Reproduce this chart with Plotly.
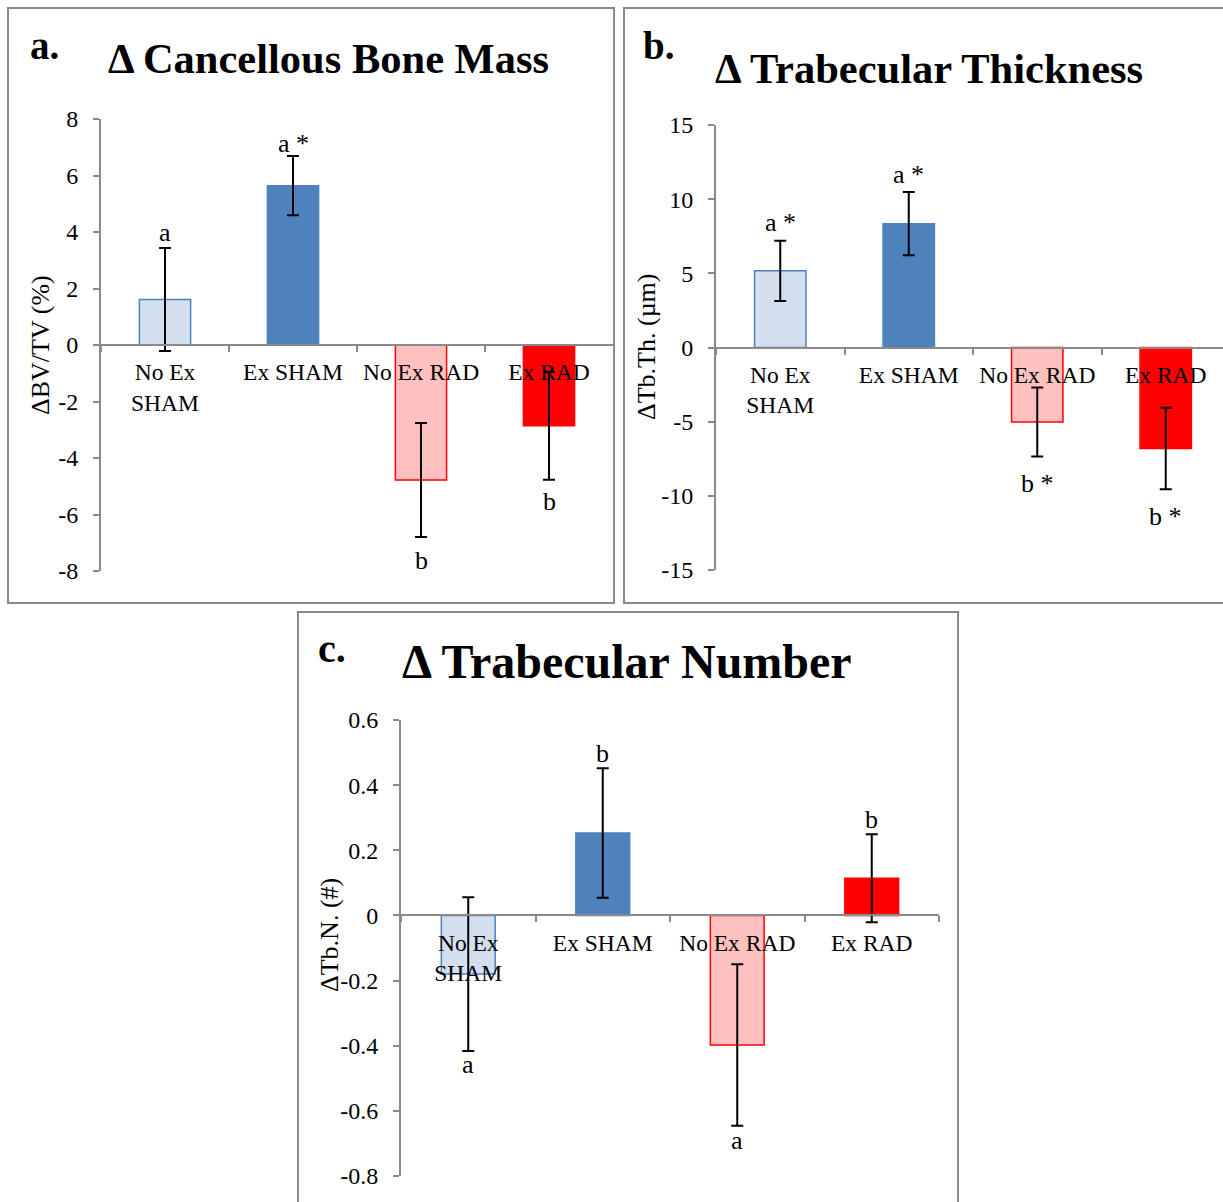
import plotly.graph_objects as go

W, H = 1223, 1202

categories = ["No Ex<br>SHAM", "Ex SHAM", "No Ex RAD", "Ex RAD"]

# Panel a: Δ Cancellous Bone Mass (ΔBV/TV, %)
bvtv_values = [1.61, 5.64, -4.78, -2.86]
bvtv_errors = [1.82, 1.05, 2.02, 1.91]
bvtv_letters = ["a", "a *", "b", "b"]
bvtv_ticks = [-8, -6, -4, -2, 0, 2, 4, 6, 8]

# Panel b: Δ Trabecular Thickness (ΔTb.Th., µm)
tbth_values = [5.17, 8.35, -5.02, -6.81]
tbth_errors = [2.03, 2.13, 2.32, 2.75]
tbth_letters = ["a *", "a *", "b *", "b *"]
tbth_ticks = [-15, -10, -5, 0, 5, 10, 15]

# Panel c: Δ Trabecular Number (ΔTb.N., #)
tbn_values = [-0.18, 0.253, -0.398, 0.114]
tbn_errors = [0.236, 0.199, 0.248, 0.135]
tbn_letters = ["a", "b", "a", "b"]
tbn_ticks = [-0.8, -0.6, -0.4, -0.2, 0, 0.2, 0.4, 0.6]
tbn_ticktext = ["-0.8", "-0.6", "-0.4", "-0.2", "0", "0.2", "0.4", "0.6"]

# ---------- styling ----------
FILL = ["#D3DFEE", "#4F81BD", "#FFC0C0", "#FF0000"]
EDGE = ["#4F81BD", "#4F81BD", "#FF0000", "#FF0000"]
GRAY = "#8A8A8A"
SERIF = "Liberation Serif, Times New Roman, serif"


def px_x(p):
    return p / W


def px_y(p):
    return 1 - p / H


panels = [
    dict(key="", values=bvtv_values, errors=bvtv_errors, letters=bvtv_letters,
         ticks=bvtv_ticks, ticktext=[str(t) for t in bvtv_ticks],
         yrange=[-8, 8], xpx=[101, 613], ypx=[119, 571], xrange=[-0.5, 3.5],
         gaps=[16, 13, 23, 22],
         label="a.", label_size=39, label_pos=(44, 46),
         title="Δ Cancellous Bone Mass", title_size=42.5, title_pos=(328, 59),
         ytitle="ΔBV/TV (%)", ytitle_pos=(41, 345),
         box=[8, 8, 614, 603]),
    dict(key="2", values=tbth_values, errors=tbth_errors, letters=tbth_letters,
         ticks=tbth_ticks, ticktext=[str(t) for t in tbth_ticks],
         yrange=[-15, 15], xpx=[716, 1223], ypx=[125, 570], xrange=[-0.5, 3.5 - 7 / 128.5],
         gaps=[18, 18, 27, 27],
         label="b.", label_size=39, label_pos=(658, 46),
         title="Δ Trabecular Thickness", title_size=42.5, title_pos=(929, 69),
         ytitle="ΔTb.Th. (µm)", ytitle_pos=(647, 347),
         box=[624, 8, 1240, 603]),
    dict(key="3", values=tbn_values, errors=tbn_errors, letters=tbn_letters,
         ticks=tbn_ticks, ticktext=tbn_ticktext,
         yrange=[-0.8, 0.6], xpx=[401, 939], ypx=[720, 1176], xrange=[-0.5, 3.5],
         gaps=[14, 15, 15, 15],
         label="c.", label_size=40, label_pos=(332, 648),
         title="Δ Trabecular Number", title_size=48, title_pos=(627, 661),
         ytitle="ΔTb.N. (#)", ytitle_pos=(329, 935),
         box=[298, 612, 958, 1220]),
]

fig = go.Figure()
annotations = []
shapes = []
layout_axes = {}

for p in panels:
    k = p["key"]
    xa = "x" + k
    ya = "y" + k
    fig.add_trace(go.Bar(
        x=categories, y=p["values"], xaxis=xa, yaxis=ya, width=0.4,
        marker=dict(color=FILL, line=dict(color=EDGE, width=1.5)),
        error_y=dict(type="data", array=p["errors"], visible=True,
                     color="black", thickness=2, width=6),
        showlegend=False, hoverinfo="skip",
    ))
    xdom = [px_x(p["xpx"][0]), px_x(p["xpx"][1])]
    ydom = [px_y(p["ypx"][1]), px_y(p["ypx"][0])]
    y0, y1 = p["yrange"]
    zero_pos = ydom[0] + (0 - y0) / (y1 - y0) * (ydom[1] - ydom[0])
    layout_axes["xaxis" + k] = dict(
        domain=xdom, anchor="free", position=zero_pos, type="category",
        range=p["xrange"], tickson="boundaries", ticks="outside", ticklen=6,
        tickcolor=GRAY, tickwidth=1.5, showline=True, linecolor=GRAY, linewidth=2,
        showgrid=False, zeroline=False, ticklabelstandoff=6, tickangle=0,
        tickfont=dict(family=SERIF, size=23.5, color="black"),
        fixedrange=True,
    )
    layout_axes["yaxis" + k] = dict(
        domain=ydom, anchor=xa, range=p["yrange"], tickvals=p["ticks"],
        ticktext=p["ticktext"], ticks="outside", ticklen=6, tickcolor=GRAY,
        tickwidth=1.5, showline=True, linecolor=GRAY, linewidth=2,
        showgrid=False, zeroline=False, ticklabelstandoff=10,
        tickfont=dict(family=SERIF, size=24, color="black"),
        fixedrange=True,
    )
    # significance letters
    for cat, v, e, lab, gap in zip(categories, p["values"], p["errors"], p["letters"], p["gaps"]):
        sgn = 1 if v >= 0 else -1
        annotations.append(dict(
            x=cat, y=v + sgn * e, xref=xa, yref=ya, text=lab, showarrow=False,
            yanchor="middle", xanchor="center", yshift=sgn * gap,
            font=dict(family=SERIF, size=26, color="black"),
        ))
    # panel label
    annotations.append(dict(
        x=px_x(p["label_pos"][0]), y=px_y(p["label_pos"][1]), xref="paper", yref="paper",
        text="<b>" + p["label"] + "</b>", showarrow=False, xanchor="center", yanchor="middle",
        font=dict(family=SERIF, size=p["label_size"], color="black"),
    ))
    # title
    annotations.append(dict(
        x=px_x(p["title_pos"][0]), y=px_y(p["title_pos"][1]), xref="paper", yref="paper",
        text="<b>" + p["title"] + "</b>", showarrow=False, xanchor="center", yanchor="middle",
        font=dict(family=SERIF, size=p["title_size"], color="black"),
    ))
    # y-axis title
    annotations.append(dict(
        x=px_x(p["ytitle_pos"][0]), y=px_y(p["ytitle_pos"][1]), xref="paper", yref="paper",
        text=p["ytitle"], showarrow=False, textangle=-90, xanchor="center", yanchor="middle",
        font=dict(family=SERIF, size=26, color="black"),
    ))
    b = p["box"]
    shapes.append(dict(
        type="rect", xref="paper", yref="paper",
        x0=px_x(b[0]), x1=px_x(b[2]), y0=px_y(b[3]), y1=px_y(b[1]),
        line=dict(color=GRAY, width=2), fillcolor="rgba(0,0,0,0)", layer="below",
    ))

fig.update_layout(
    width=W, height=H, margin=dict(l=0, r=0, t=0, b=0, autoexpand=False),
    paper_bgcolor="white", plot_bgcolor="white", showlegend=False,
    annotations=annotations, shapes=shapes, bargap=0.6,
    **layout_axes,
)

fig.write_html("out.html")
